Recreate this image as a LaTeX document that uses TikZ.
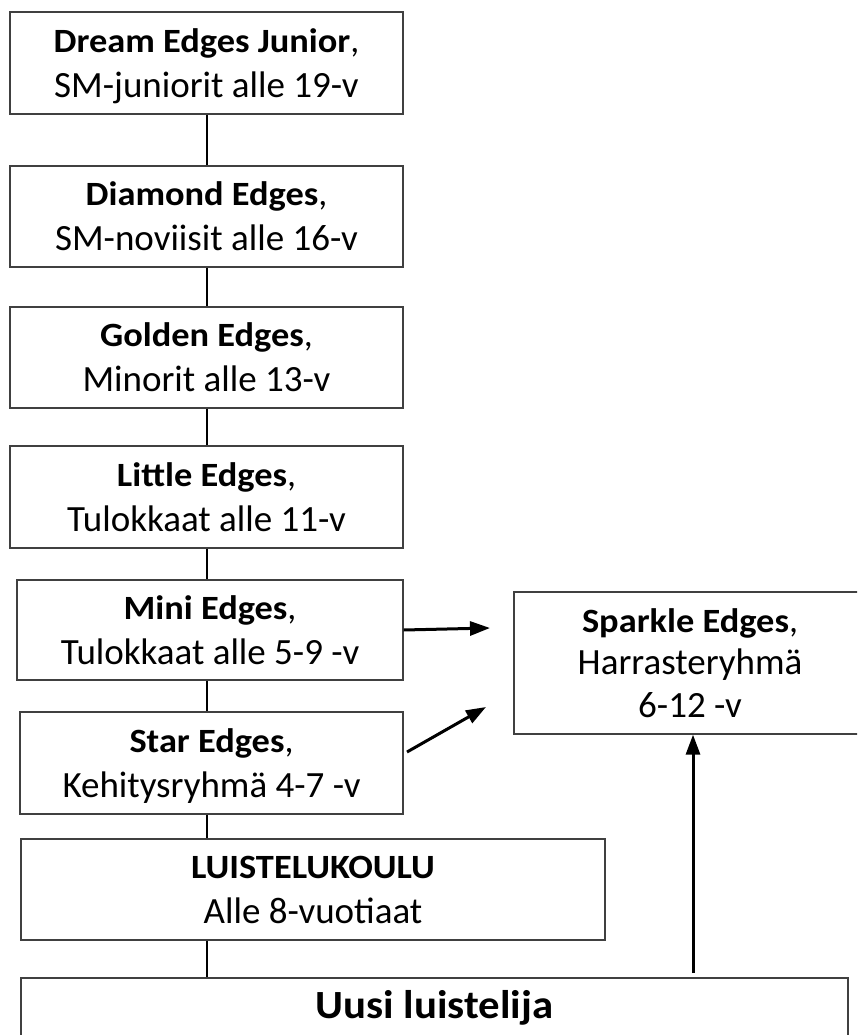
\documentclass[tikz,border=0pt]{standalone}
\usepackage{fontspec}
\setmainfont{Carlito}[BoldFeatures={FakeStretch=1.07}]
\usetikzlibrary{arrows.meta,calc}
\newcommand\hb[1]{{\fontsize{34}{45}\selectfont\bfseries #1}}
\newcommand\hc{{\fontsize{36}{45}\selectfont,}}
\begin{document}
\begin{tikzpicture}[x=1pt,y=-1pt,
  boxnode/.style={draw=black!75, line width=1.3pt, fill=white, inner sep=0pt,
    align=center, font=\fontsize{37}{45}\selectfont, text depth=0pt},
  conn/.style={line width=2.2pt, draw=black},
  arr/.style={line width=3pt, draw=black, -{Triangle[length=20pt,width=14pt]}}]
\useasboundingbox (0,0) rectangle (857,1035);
\clip (0,0) rectangle (857,1035);
\fill[white] (0,0) rectangle (857,1035);

\node[boxnode, minimum width=393pt, minimum height=102pt] (b1) at (206.5,63)
  {\hb{Dream Edges Junior}\hc\\SM-juniorit alle 19-v};
\node[boxnode, minimum width=393pt, minimum height=101pt] (b2) at (206.5,216.5)
  {\hb{Diamond Edges}\hc\\SM-noviisit alle 16-v};
\node[boxnode, minimum width=393pt, minimum height=101pt] (b3) at (206.5,357.5)
  {\hb{Golden Edges}\hc\\Minorit alle 13-v};
\node[boxnode, minimum width=393pt, minimum height=102pt] (b4) at (206.5,497)
  {\hb{Little Edges}\hc\\Tulokkaat alle 11-v};
\node[boxnode, minimum width=386pt, minimum height=100pt] (b5) at (210,630)
  {\hb{Mini Edges}\hc\\Tulokkaat alle 5-9 -v};
\node[boxnode, minimum width=383pt, minimum height=102pt] (b6) at (211.5,763)
  {\hb{Star Edges}\hc\\Kehitysryhmä 4-7 -v};
\node[boxnode, minimum width=584pt, minimum height=101pt] (b7) at (313,889.5)
  {\hb{LUISTELUKOULU}\\Alle 8-vuotiaat};
\node[boxnode, minimum width=827pt, minimum height=67pt, text depth=14pt] (b8) at (434.5,1011.5)
  {\fontsize{40}{48}\selectfont\bfseries Uusi luistelija};
\node[boxnode, minimum width=352pt, minimum height=142pt,
  font=\fontsize{37}{42.5}\selectfont] (sp) at (690,663)
  {{\fontsize{34}{42.5}\selectfont\bfseries Sparkle Edges}{\fontsize{36}{42.5}\selectfont,}\\Harrasteryhmä\\6-12 -v};

\coordinate (spine) at (207,0);
\draw[conn] (b1.south -| spine) -- (b2.north -| spine);
\draw[conn] (b2.south -| spine) -- (b3.north -| spine);
\draw[conn] (b3.south -| spine) -- (b4.north -| spine);
\draw[conn] (b4.south -| spine) -- (b5.north -| spine);
\draw[conn] (b5.south -| spine) -- (b6.north -| spine);
\draw[conn] (b6.south -| spine) -- (b7.north -| spine);
\draw[conn] (b7.south -| spine) -- (b8.north -| spine);

\coordinate (a1e) at (490,628);
\coordinate (a2s) at (407,752);
\coordinate (a2e) at (486,707);
\coordinate (a3s) at (693,973);
\draw[arr] (b5.east) -- (a1e);
\draw[arr] (a2s) -- (a2e);
\draw[arr] (a3s) -- (sp.south -| a3s);
\end{tikzpicture}
\end{document}
